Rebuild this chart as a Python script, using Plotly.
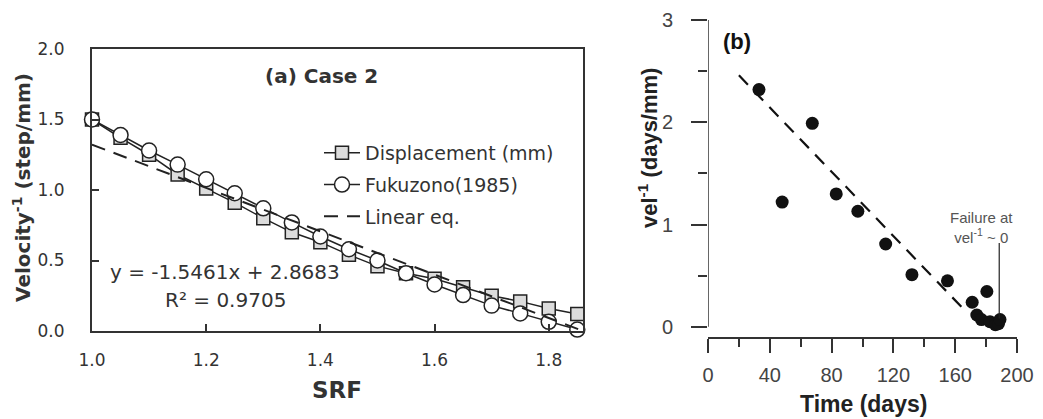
import plotly.graph_objects as go

W, H = 1043, 419

# ---------------- data: panel (a) ----------------
srf = [1.00, 1.05, 1.10, 1.15, 1.20, 1.25, 1.30, 1.35, 1.40, 1.45,
       1.50, 1.55, 1.60, 1.65, 1.70, 1.75, 1.80, 1.85]
displacement = [1.50, 1.37, 1.25, 1.11, 1.01, 0.91, 0.80, 0.70, 0.63, 0.54,
                0.46, 0.41, 0.37, 0.31, 0.25, 0.21, 0.16, 0.12]
fukuzono = [1.50, 1.39, 1.28, 1.18, 1.076, 0.977, 0.87, 0.77, 0.67, 0.58,
            0.50, 0.41, 0.33, 0.255, 0.18, 0.125, 0.065, 0.01]
linear_x = [1.00, 1.86]
linear_y = [1.322, 0.0]

# ---------------- data: panel (b) ----------------
time_days = [33, 48, 67.5, 83, 97, 115, 132, 155, 171, 180.5,
             174, 177, 182.5, 186, 188, 189]
vel_inv = [2.32, 1.22, 1.99, 1.30, 1.13, 0.81, 0.51, 0.45, 0.24, 0.345,
           0.115, 0.07, 0.05, 0.02, 0.03, 0.07]
trend_t = [20, 165]
trend_v = [2.46, 0.18]
fail_t = [188.5, 188.5]
fail_v = [0.08, 0.82]


def px(x):
    return x / W


def py(y):
    return 1 - y / H


LFONT = "DejaVu Sans"
RFONT = "Liberation Sans, Arial"
DARK = "#333333"

fig = go.Figure()

# panel (a)
fig.add_trace(go.Scatter(
    x=srf, y=displacement, mode="lines+markers", name="Displacement (mm)",
    line=dict(color="#222222", width=1.5),
    marker=dict(symbol="square", size=13, color="#dcdcdc",
                line=dict(color="#222222", width=1.5)),
    cliponaxis=False, legendgroup="a", xaxis="x", yaxis="y"))
fig.add_trace(go.Scatter(
    x=srf, y=fukuzono, mode="lines+markers", name="Fukuzono(1985)",
    line=dict(color="#222222", width=1.5),
    marker=dict(symbol="circle", size=15, color="white",
                line=dict(color="#222222", width=1.5)),
    cliponaxis=False, legendgroup="b", xaxis="x", yaxis="y"))
fig.add_trace(go.Scatter(
    x=linear_x, y=linear_y, mode="lines", name="Linear eq.",
    line=dict(color="#222222", width=2, dash="14px,9px"),
    legendgroup="c", xaxis="x", yaxis="y"))

# panel (b)
fig.add_trace(go.Scatter(
    x=trend_t, y=trend_v, mode="lines", showlegend=False,
    line=dict(color="#111111", width=2.2, dash="13px,9px"),
    xaxis="x2", yaxis="y2"))
fig.add_trace(go.Scatter(
    x=time_days, y=vel_inv, mode="markers", showlegend=False,
    marker=dict(size=13, color="#111111"),
    xaxis="x2", yaxis="y2"))
fig.add_trace(go.Scatter(
    x=fail_t, y=fail_v, mode="lines", showlegend=False,
    line=dict(color="#222222", width=1.2),
    xaxis="x2", yaxis="y2"))


def ann(text, x, y, family, size, color, angle=0):
    return dict(text=text, x=px(x), y=py(y), xref="paper", yref="paper",
                xanchor="center", yanchor="middle", textangle=angle,
                showarrow=False, align="center",
                font=dict(family=family, size=size, color=color))


annotations = [
    ann("<b>(a) Case 2</b>", 321, 76, LFONT, 20, DARK),
    ann("y = -1.5461x + 2.8683", 225, 272, LFONT, 20, DARK),
    ann("R² = 0.9705", 225, 300, LFONT, 20, DARK),
    ann("<b>Velocity<sup>-1</sup> (step/mm)</b>", 22, 188, LFONT, 20, DARK, -90),
    ann("<b>SRF</b>", 337, 390, LFONT, 23, DARK),
    ann("<b>(b)</b>", 737, 42, RFONT, 22, "#111111"),
    ann("<b>vel<sup>-1</sup> (days/mm)</b>", 648, 148, RFONT, 22, "#222222", -90),
    ann("<b>Time (days)</b>", 863, 404, RFONT, 23, "#222222"),
    ann("Failure at<br>vel<sup>-1</sup> ~ 0", 981, 227, RFONT, 15, "#555555"),
]

shapes = [
    # R-style y axis line for panel (b), spanning 0..3
    dict(type="line", xref="x2", yref="y2", x0=0, x1=0, y0=0, y1=3,
         line=dict(color=DARK, width=1.5)),
]

fig.update_layout(
    width=W, height=H,
    margin=dict(l=0, r=0, t=0, b=0, pad=0, autoexpand=False),
    paper_bgcolor="white", plot_bgcolor="white",
    showlegend=True,
    legend=dict(x=px(319), y=py(134), xanchor="left", yanchor="top",
                bgcolor="rgba(0,0,0,0)", traceorder="grouped",
                tracegroupgap=4, itemwidth=36,
                font=dict(family=LFONT, size=19, color=DARK)),
    xaxis=dict(domain=[px(92), px(583)], range=[1.0, 1.86], anchor="y",
               tickvals=[1.0, 1.2, 1.4, 1.6, 1.8], tickformat=".1f",
               ticks="inside", ticklen=7, tickwidth=1.5, tickcolor=DARK,
               showline=True, linecolor=DARK, linewidth=2, mirror=True,
               showgrid=False, zeroline=False, ticklabelstandoff=13,
               automargin=False,
               tickfont=dict(family=LFONT, size=17, color=DARK)),
    yaxis=dict(domain=[py(331), py(49)], range=[0, 2.0], anchor="x",
               tickvals=[0, 0.5, 1.0, 1.5, 2.0], tickformat=".1f",
               ticks="inside", ticklen=7, tickwidth=1.5, tickcolor=DARK,
               showline=True, linecolor=DARK, linewidth=2, mirror=True,
               showgrid=False, zeroline=False, ticklabelstandoff=22,
               automargin=False,
               tickfont=dict(family=LFONT, size=17, color=DARK)),
    xaxis2=dict(domain=[px(708), px(1017)], range=[0, 200], anchor="y2",
                tickvals=[0, 40, 80, 120, 160, 200],
                ticks="outside", ticklen=14, tickwidth=1.5, tickcolor=DARK,
                minor=dict(dtick=20, ticklen=8, tickwidth=1.5, tickcolor=DARK,
                           ticks="outside", showgrid=False),
                showline=True, linecolor=DARK, linewidth=1.5,
                showgrid=False, zeroline=False, ticklabelstandoff=5,
                automargin=False,
                tickfont=dict(family=RFONT, size=20, color="#444444")),
    yaxis2=dict(domain=[py(337), py(15)], range=[-0.1, 3.05], anchor="x2",
                tickvals=[0, 1, 2, 3],
                ticks="outside", ticklen=16, tickwidth=1.5, tickcolor=DARK,
                minor=dict(dtick=0.5, ticklen=9, tickwidth=1.5, tickcolor=DARK,
                           ticks="outside", showgrid=False),
                showline=False, showgrid=False, zeroline=False,
                ticklabelstandoff=14, automargin=False,
                tickfont=dict(family=RFONT, size=20, color="#444444")),
    annotations=annotations,
    shapes=shapes,
)

fig.write_html("out.html",
               config={"displayModeBar": False},
               post_script="document.body.style.margin='0px';")
